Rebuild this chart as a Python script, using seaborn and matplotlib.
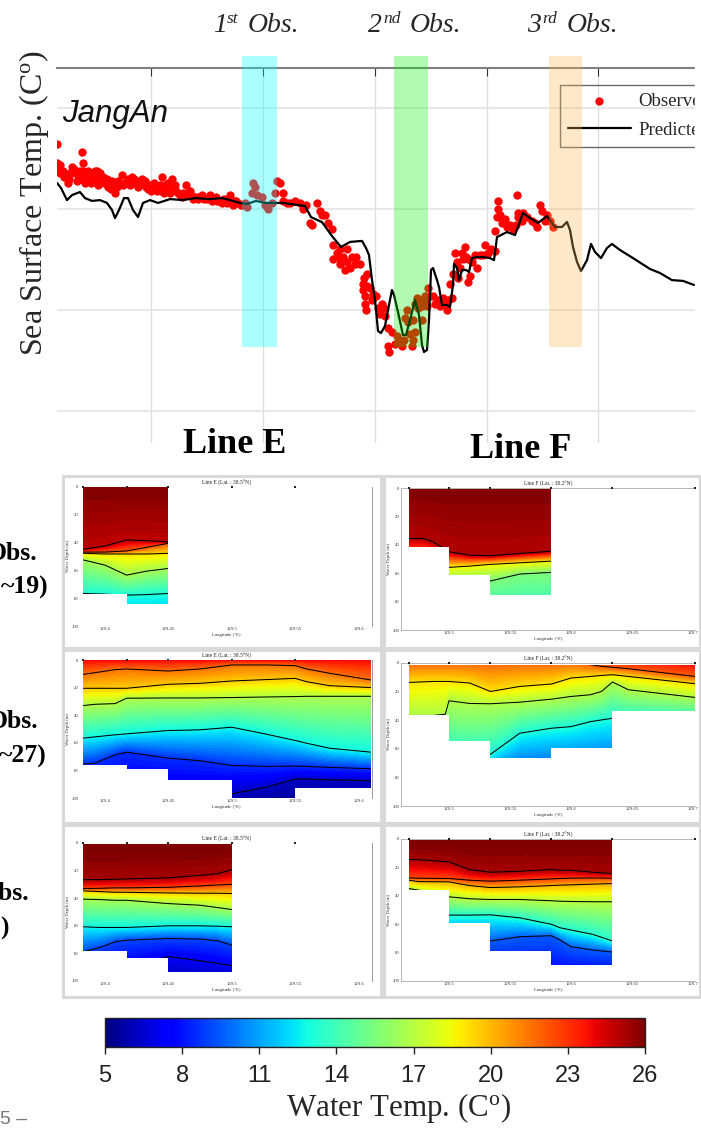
import matplotlib

matplotlib.use("Agg")
import matplotlib.pyplot as plt
import numpy as np
import seaborn as sns
from matplotlib.cm import ScalarMappable
from matplotlib.colors import Normalize
from matplotlib.patches import Polygon, Rectangle

W, H = 701, 1128

# top panel: sea surface temperature at JangAn
pred_day = [0, 4, 10, 15, 23, 28, 35, 43, 50, 55, 58, 62, 67, 71, 76, 81, 86, 93, 101, 113, 126, 138,
            153, 165, 173, 183, 190, 199, 208, 216, 226, 240, 248, 254, 265, 275, 284, 293, 305, 309,
            312, 315, 318, 321, 324, 328, 333, 335, 337, 341, 346, 349, 353, 358, 362, 365, 367, 370,
            372, 374, 376, 380, 382, 385, 390, 393, 396, 397, 400, 402, 405, 409, 412, 415, 419, 426,
            433, 437, 440, 450, 458, 461, 466, 473, 481, 490, 498, 505, 510, 513, 516, 520, 524, 530,
            534, 538, 544, 550, 555, 563, 576, 593, 603, 615, 626, 637]
pred_temp = [21.29, 21.04, 20.44, 20.69, 20.84, 20.54, 20.40, 20.44, 20.30, 19.95, 19.55, 19.95, 20.54,
             20.54, 19.95, 19.60, 20.30, 20.44, 20.30, 20.49, 20.44, 20.54, 20.49, 20.54, 20.44, 20.30,
             20.25, 20.40, 20.30, 20.30, 20.30, 20.20, 20.15, 19.60, 19.35, 18.66, 18.12, 18.37, 18.42,
             18.07, 17.72, 16.48, 15.50, 13.96, 13.86, 14.21, 15.50, 15.99, 15.74, 14.90, 13.76, 13.76,
             14.50, 15.50, 14.75, 13.27, 12.92, 13.02, 14.50, 16.98, 17.08, 16.48, 16.14, 15.25, 15.25,
             15.15, 16.24, 17.28, 17.08, 16.48, 16.98, 16.98, 16.88, 17.57, 17.62, 17.62, 17.57, 17.47,
             18.61, 18.86, 18.71, 19.11, 19.80, 19.55, 19.31, 19.65, 19.11, 19.11, 19.36, 18.96, 18.12,
             17.38, 16.93, 17.47, 18.27, 17.87, 17.57, 18.07, 18.27, 17.97, 17.57, 17.03, 16.83, 16.48,
             16.44, 16.24]

obs_day = [0, 0, 0, 3, 6, 9, 11, 13, 15, 18, 21, 23, 25, 26, 26, 29, 32, 35, 38, 41, 41, 43, 46, 50, 53,
           55, 58, 58, 61, 65, 68, 71, 75, 78, 80, 83, 86, 89, 93, 95, 98, 100, 103, 105, 108, 111, 115,
           116, 119, 123, 126, 129, 131, 134, 138, 141, 143, 147, 153, 157, 160, 165, 170, 173, 177, 181,
           186, 190, 196, 198, 195, 200, 205, 208, 211, 215, 218, 220, 223, 226, 226, 230, 233, 238, 243,
           246, 249, 255, 253, 260, 263, 265, 268, 271, 275, 276, 276, 280, 281, 283, 288, 290, 290, 295,
           298, 303, 310, 306, 310, 306, 308, 308, 309, 313, 316, 325, 321, 323, 328, 331, 335, 331, 332,
           340, 343, 345, 341, 350, 348, 355, 356, 358, 356, 360, 363, 368, 365, 365, 358, 361, 370, 371,
           376, 378, 381, 386, 390, 391, 393, 395, 396, 398, 401, 405, 406, 408, 411, 413, 411, 418, 420,
           428, 426, 431, 438, 438, 441, 441, 440, 445, 450, 456, 460, 461, 461, 466, 470, 475, 480, 483,
           485, 490, 493, 496,
           3, 7, 12, 17, 20, 24, 28, 31, 34, 37, 40, 44, 47, 51, 54, 56, 60, 63, 66, 70, 73, 77, 81, 85, 88,
           91, 94, 97, 101, 104, 107, 110, 113, 118, 121, 125, 128, 133, 136, 141, 145, 150, 155, 159, 163,
           167, 172, 176, 179, 184, 188,
           283, 286, 293, 299, 307, 315, 319, 327, 338, 347, 353, 351, 368, 373, 383, 388, 400, 403, 409,
           415, 423, 434, 443, 448, 453, 459, 465, 478, 488]
obs_temp = [23.2, 22.3, 21.9, 21.8, 21.9, 21.7, 21.3, 21.8, 22.1, 21.8, 21.7, 21.9, 22.8, 22.3, 21.9,
            21.6, 21.6, 21.7, 21.9, 21.2, 21.6, 21.8, 21.6, 21.5, 21.3, 21.4, 20.8, 21.1, 21.4, 21.7, 21.3,
            21.5, 21.6, 21.3, 21.4, 21.3, 21.3, 21.1, 21.2, 21.2, 21.0, 20.9, 21.2, 21.6, 21.2, 21.3, 21.5,
            21.1, 20.9, 20.7, 20.8, 21.2, 20.8, 20.7, 20.6, 20.6, 20.6, 20.5, 20.7, 20.5, 20.4, 20.3, 20.3,
            20.7, 20.4, 20.3, 20.2, 20.1, 21.3, 21.1, 20.8, 20.7, 20.6, 20.2, 20.0, 20.3, 20.8, 21.4, 21.3,
            20.8, 20.4, 20.3, 20.3, 20.4, 20.3, 20.0, 20.2, 19.2, 19.3, 20.3, 19.9, 19.7, 19.7, 19.3, 19.0,
            18.2, 17.5, 17.8, 17.6, 17.3, 17.0, 18.0, 17.4, 17.6, 17.3, 17.3, 16.8, 16.3, 16.2, 16.0, 15.7,
            15.3, 15.0, 16.1, 15.8, 15.3, 15.1, 14.8, 14.7, 14.1, 13.9, 13.2, 12.9, 13.7, 13.5, 13.2, 13.4,
            15.0, 14.6, 13.2, 13.5, 13.9, 14.5, 15.6, 15.5, 15.4, 15.2, 14.5, 15.3, 15.1, 15.2, 16.1, 15.7,
            15.3, 15.5, 15.6, 15.0, 15.5, 16.3, 15.6, 16.8, 17.8, 16.6, 17.8, 17.5, 18.1, 17.5, 16.7, 16.4,
            17.7, 17.1, 18.2, 17.7, 17.8, 17.9, 18.9, 20.4, 20.0, 19.6, 19.3, 19.1, 19.0, 20.7, 19.8, 19.6,
            19.8, 19.6, 19.4, 19.1, 20.2, 19.9, 19.7, 19.4, 19.1,
            22.2, 21.6, 21.5, 22.0, 21.4, 21.5, 21.3, 21.9, 21.3, 21.4, 21.9, 21.4, 21.3, 21.1, 21.0, 21.2,
            21.1, 21.3, 21.2, 21.3, 21.2, 21.5, 21.1, 21.5, 21.4, 21.0, 20.9, 21.3, 21.1, 20.9, 20.8, 20.9,
            20.8, 21.2, 20.8, 20.6, 20.7, 20.9, 20.5, 20.5, 20.7, 20.5, 20.4, 20.6, 20.4, 20.5, 20.4, 20.2,
            20.4, 20.2, 20.3,
            18.0, 17.6, 17.1, 17.6, 16.6, 15.5, 15.7, 15.1, 13.3, 13.5, 13.8, 14.4, 15.7, 15.7, 15.2, 15.3,
            17.4, 17.1, 17.6, 17.4, 17.7, 18.0, 19.7, 19.5, 19.2, 19.2, 19.4, 19.3, 19.4]

obs_spans = [(185, 220), (337, 371), (492, 525)]
span_colors = ["#00ffff", "#00f000", "#fab34d"]
span_alpha = [0.33, 0.3, 0.3]
# x of the numeral, its superscript and the word, per heading
span_numbers = [("1", "st", 213, 227, 248), ("2", "nd", 368, 383, 410), ("3", "rd", 527, 542, 567)]
day_ticks = [94, 206, 318, 430, 541]
temp_ticks = [10, 15, 20, 25]

# section panels: each row of depths follows one isotherm across the listed longitudes
e1_lons = [129.383, 129.40, 129.417, 129.433, 129.45]
e1_temps = [26, 24.8, 22, 19, 16.5, 13, 11]
e1_depths = [[0, 0, 0, 0, 0],
             [44.8, 42.4, 38.1, 38.6, 39.5],
             [46.8, 46.8, 46.0, 43.4, 40.5],
             [47.7, 48.2, 48.2, 48.2, 47.7],
             [52.5, 56.2, 63.4, 60.5, 58.6],
             [76.6, 77.1, 77.8, 77.4, 76.6],
             [100, 100, 100, 100, 100]]
e1_edges = [129.383, 129.417, 129.45]
e1_bottom = [77.1, 83.9]

e2_lons = [129.383, 129.392, 129.408, 129.417, 129.45, 129.475, 129.5, 129.527, 129.55, 129.559, 129.577, 129.61]
e2_temps = [23.8, 21.5, 19.5, 16.8, 12.7, 8.5, 6.3, 5]
e2_depths = [[0] * 12,
             [10.4, 9.2, 7.0, 6.5, 8.0, 6.5, 3.6, 3.6, 4.1, 6.5, 9.6, 14.5],
             [20.5, 20.5, 20.5, 20.5, 17.6, 16.9, 15.2, 14.2, 13.3, 15.7, 18.6, 20.0],
             [33.0, 32.1, 31.6, 27.7, 27.5, 27.5, 27.2, 26.8, 26.5, 26.3, 26.3, 26.3],
             [56.6, 55.7, 54.2, 53.5, 51.1, 50.6, 48.7, 53.7, 58.3, 60.3, 63.9, 66.8],
             [75.4, 74.7, 68.7, 66.8, 71.1, 73.0, 76.4, 77.1, 76.9, 77.1, 77.8, 78.8],
             [102.4, 102.4, 102.4, 102.4, 102.4, 102.4, 96.9, 92.3, 86.3, 86.3, 86.8, 87.5],
             [110] * 12]
e2_edges = [129.383, 129.417, 129.45, 129.5, 129.55, 129.61]
e2_bottom = [75.9, 79.1, 86.8, 100, 92.8]

e3_lons = [129.383, 129.396, 129.408, 129.417, 129.45, 129.475, 129.489, 129.5]
e3_temps = [26.3, 25.2, 22.5, 19.5, 16.5, 12.7, 9, 7.2, 6]
e3_depths = [[0] * 8,
             [26.5, 26.5, 26.3, 26.0, 25.3, 23.4, 22.2, 19.3],
             [33.0, 32.8, 32.5, 32.5, 32.1, 31.1, 30.4, 29.9],
             [34.7, 35.2, 35.7, 35.7, 36.2, 36.4, 36.4, 36.6],
             [40.7, 41.0, 41.5, 41.5, 43.9, 45.1, 46.8, 48.2],
             [60.7, 61.2, 61.2, 61.2, 60.0, 60.0, 60.3, 60.7],
             [78.8, 75.7, 71.6, 70.4, 69.2, 69.6, 70.9, 74.0],
             [89.7, 89.7, 89.7, 89.7, 82.4, 85.3, 87.2, 88.9],
             [100] * 8]
e3_edges = [129.383, 129.417, 129.45, 129.5]
e3_bottom = [78.3, 83.1, 93.5]

f1_lons = [129.467, 129.479, 129.487, 129.5, 129.517, 129.534, 129.558, 129.584]
f1_temps = [26, 25, 18.5, 15.5, 12.5]
f1_depths = [[0] * 8,
             [35.6, 35.6, 37.9, 44.9, 47.3, 47.7, 46.1, 44.5],
             [55.5, 55.5, 55.5, 55.9, 55.0, 53.8, 52.7, 51.5],
             [67.2, 67.2, 67.2, 67.2, 66.0, 65.5, 60.6, 59.4],
             [100] * 8]
f1_edges = [129.467, 129.5, 129.534, 129.584]
f1_bottom = [41.9, 61.3, 75.6]

f2_lons = [129.467, 129.487, 129.497, 129.5, 129.517, 129.534, 129.558, 129.584, 129.6, 129.616, 129.625,
           129.634, 129.647, 129.702]
f2_temps = [25.8, 22, 19, 16.8, 13, 8.5]
f2_depths = [[-10] * 14,
             [-1.2, -1.2, -1.2, -1.2, -1.2, -1.2, -1.2, -1.2, -1.2, 1.2, 2.3, 3.0, 4.0, 9.4],
             [13.6, 12.9, 12.9, 12.9, 14.0, 19.9, 16.4, 14.7, 10.5, 9.4, 8.7, 8.2, 9.4, 14.5],
             [36.7, 36.7, 35.8, 26.4, 28.3, 28.5, 27.4, 25.3, 23.4, 22.2, 19.9, 13.3, 18.7, 24.1],
             [65.5, 65.5, 65.5, 65.5, 65.5, 63.9, 49.1, 45.6, 44.5, 41.0, 39.8, 38.6, 39.1, 39.8],
             [80.7] * 14]
f2_edges = [129.467, 129.5, 129.534, 129.584, 129.634, 129.702]
f2_bottom = [36.7, 54.5, 66.7, 59.2, 33.9]

f3_lons = [129.467, 129.475, 129.5, 129.517, 129.534, 129.558, 129.584, 129.591, 129.6, 129.618, 129.634]
f3_temps = [26.3, 25.2, 22.5, 20, 17, 13.2, 9.5, 7.5]
f3_depths = [[0] * 11,
             [14.5, 14.5, 16.1, 21.5, 23.4, 22.7, 21.5, 22.0, 22.0, 23.4, 24.3],
             [27.4, 27.6, 27.8, 29.0, 29.7, 29.0, 28.1, 27.8, 27.6, 27.4, 27.6],
             [29.0, 30.0, 30.2, 32.8, 34.2, 33.7, 32.8, 32.5, 32.3, 31.8, 31.4],
             [34.9, 36.0, 40.7, 42.1, 42.6, 42.6, 43.5, 43.8, 44.0, 44.2, 44.2],
             [53.6, 53.6, 53.6, 53.6, 53.4, 55.5, 60.1, 62.5, 64.1, 67.2, 71.8],
             [71.8, 71.8, 71.8, 71.8, 71.8, 68.8, 68.1, 71.1, 75.8, 78.2, 79.6],
             [94] * 11]
f3_edges = [129.467, 129.5, 129.534, 129.584, 129.634]
f3_bottom = [36.0, 59.4, 78.9, 88.7]

e_stations = [129.383, 129.417, 129.45, 129.5, 129.55]
f_stations = [129.467, 129.5, 129.534, 129.584, 129.634, 129.702]
e_ticks = [129.4, 129.45, 129.5, 129.55, 129.6]
f_ticks = [129.5, 129.55, 129.6, 129.65, 129.7]
depth_ticks = [0, 20, 40, 60, 80, 100]
cbar_ticks = [5, 8, 11, 14, 17, 20, 23, 26]

sns.set_theme(style="white")
plt.rcParams["font.family"] = ["Liberation Serif", "DejaVu Serif"]
plt.rcParams["mathtext.fontset"] = "custom"
plt.rcParams["mathtext.rm"] = "Liberation Serif"
plt.rcParams["mathtext.it"] = "Liberation Serif:italic"
plt.rcParams["mathtext.bf"] = "Liberation Serif:bold"

fig = plt.figure(figsize=(W / 100, H / 100), dpi=100)


def px_axes(x0, y0, x1, y1):
    return fig.add_axes([x0 / W, 1 - y1 / H, (x1 - x0) / W, (y1 - y0) / H])


def px_text(x, y, s, **kw):
    kw.setdefault("va", "center")
    return fig.text(x / W, 1 - y / H, s, **kw)


# %% top panel
ax = px_axes(57, 68, 695, 443)
sns.scatterplot(x=obs_day, y=obs_temp, color="#ff0000", s=36, linewidth=0, ax=ax, label="Observed", zorder=3)
sns.lineplot(x=pred_day, y=pred_temp, color="black", lw=1.6, estimator=None, sort=False, ax=ax,
             label="Predicted", zorder=4)
ax.set_xlim(0, 638)
ax.set_ylim(8.416, 26.98)
ax.set_xticks(day_ticks)
ax.set_yticks(temp_ticks)
ax.set_xticklabels([])
ax.set_yticklabels([])
ax.xaxis.tick_top()
ax.tick_params(axis="x", direction="in", length=5.5, width=0.8, color="#333333", top=True)
ax.tick_params(axis="y", length=0)
ax.grid(True, axis="y", color="#e2e2e2", lw=1.1)
ax.grid(True, axis="x", color="#dddddd", lw=0.9)
ax.set_axisbelow(True)
for side in ["left", "right", "bottom"]:
    ax.spines[side].set_visible(False)
ax.spines["top"].set_color("#808080")
ax.spines["top"].set_linewidth(1.5)
for (x0, x1), col, alpha in zip(obs_spans, span_colors, span_alpha):
    ax.axvspan(x0, x1, ymin=0.256, ymax=1.032, color=col, alpha=alpha, lw=0, zorder=6, clip_on=False)
leg = ax.legend(loc="upper left", bbox_to_anchor=(560 / W, 1 - 85 / H), bbox_transform=fig.transFigure,
                fontsize=13.5, frameon=True, fancybox=False, borderaxespad=0, borderpad=0.42,
                handlelength=3.35, handletextpad=0.4, labelspacing=0.62)
leg.get_frame().set_facecolor("none")
leg.get_frame().set_edgecolor("#444444")
leg.get_frame().set_linewidth(1)
fig.add_artist(Rectangle((695 / W, 1 - 150 / H), 6 / W, 90 / H, transform=fig.transFigure, color="white",
                         zorder=20))

for num, sup, x_num, x_sup, x_word in span_numbers:
    px_text(x_num, 25, num, style="italic", fontsize=20)
    px_text(x_sup, 19, sup, style="italic", fontsize=12.5)
    px_text(x_word, 25, "Obs.", style="italic", fontsize=20)
px_text(34, 203, "Sea Surface Temp. (C$^{\\mathrm{o}}$)", rotation=90, ha="center", fontsize=23)
px_text(62, 114, "JangAn", family="Liberation Sans", style="italic", fontsize=22.5, color="#111111")
px_text(235, 445, "Line E", ha="center", fontsize=26, fontweight="bold", color="black")
px_text(521, 449, "Line F", ha="center", fontsize=26, fontweight="bold", color="black")

# %% section panels
norm = Normalize(5, 26)
level_steps = np.arange(5, 26.01, 0.25)


def section(frame, axbox, lons, temps, depths, edges, bottom, stations, ticks, xlim, title, top=0.0):
    fig.add_artist(Rectangle((frame[0] / W, 1 - frame[3] / H), (frame[2] - frame[0]) / W,
                             (frame[3] - frame[1]) / H, transform=fig.transFigure, facecolor="white",
                             edgecolor="#d9d9d9", lw=2.2, zorder=0))
    sec = px_axes(*axbox)
    sec.patch.set_alpha(0)
    sec.set_zorder(2)
    xx = np.tile(lons, (len(temps), 1))
    zz = np.array(depths)
    tt = np.tile(np.array(temps)[:, None], (1, len(lons)))
    verts = [(edges[0], top), (edges[-1], top)]
    for i in range(len(bottom) - 1, -1, -1):
        verts += [(edges[i + 1], bottom[i]), (edges[i], bottom[i])]
    clip = Polygon(verts, closed=True, transform=sec.transData)
    filled = sec.contourf(xx, zz, tt, levels=level_steps, cmap="jet", norm=norm, extend="both")
    filled.set_clip_path(clip)
    for row in depths[1:-1]:
        sns.lineplot(x=lons, y=row, color="black", lw=0.75, estimator=None, sort=False, ax=sec, legend=False)
        sec.lines[-1].set_clip_path(clip)
    sec.plot(stations, [0] * len(stations), "s", color="#222222", ms=1.8, mew=0, clip_on=False, zorder=5)
    sec.set_xlim(*xlim)
    sec.set_ylim(100, 0)
    sec.set_xticks(ticks)
    sec.set_xticklabels([str(t) for t in ticks])
    sec.set_yticks(depth_ticks)
    sec.tick_params(axis="both", labelsize=3.4, length=1.5, width=0.3, pad=1, colors="#333333", direction="in")
    sec.set_xlabel("Longitude (°E)", fontsize=3.4, labelpad=1, color="#333333")
    sec.set_ylabel("Water Depth (m)", fontsize=3.4, labelpad=1, color="#333333")
    sec.set_title(title, fontsize=4, pad=1.5, color="#222222")
    return sec


e_xlim = (129.3803, 129.6106)
f_xlim = (129.4607, 129.7016)
e_title = "Line E (Lat. : 38.5°N)"
f_title = "Line F (Lat. : 38.2°N)"
left_frames = [(63, 476, 381, 648), (63, 650, 381, 823), (63, 825, 381, 997)]
right_frames = [(384, 476, 700, 648), (384, 650, 700, 823), (384, 825, 700, 997)]
left_axes = [(80, 487, 372, 626), (80, 660, 372, 798), (80, 843, 372, 981)]
right_axes = [(401, 488, 695, 630), (401, 663, 695, 806), (401, 839, 695, 981)]

left_data = [(e1_lons, e1_temps, e1_depths, e1_edges, e1_bottom, 0.0),
             (e2_lons, e2_temps, e2_depths, e2_edges, e2_bottom, 0.0),
             (e3_lons, e3_temps, e3_depths, e3_edges, e3_bottom, 0.5)]
right_data = [(f1_lons, f1_temps, f1_depths, f1_edges, f1_bottom, 0.5),
              (f2_lons, f2_temps, f2_depths, f2_edges, f2_bottom, 1.6),
              (f3_lons, f3_temps, f3_depths, f3_edges, f3_bottom, 1.0)]

for frame, box, d in zip(left_frames, left_axes, left_data):
    sec = section(frame, box, d[0], d[1], d[2], d[3], d[4], e_stations, e_ticks, e_xlim, e_title, top=d[5])
    for side in ["left", "top", "bottom"]:
        sec.spines[side].set_visible(False)
    sec.spines["right"].set_color("#888888")
    sec.spines["right"].set_linewidth(0.6)

for frame, box, d in zip(right_frames, right_axes, right_data):
    sec = section(frame, box, d[0], d[1], d[2], d[3], d[4], f_stations, f_ticks, f_xlim, f_title, top=d[5])
    sec.spines["right"].set_visible(False)
    for side in ["left", "top", "bottom"]:
        sec.spines[side].set_color("#999999")
        sec.spines[side].set_linewidth(0.5)

# row labels are cut by the page edge in the source
bold = dict(ha="right", fontsize=18.5, fontweight="bold", color="black")
px_text(37, 553, "Obs.", **bold)
px_text(48, 587, "~19)", **bold)
px_text(38, 722, "Obs.", **bold)
px_text(47, 756, "~27)", **bold)
px_text(29, 894, "Obs.", **bold)
px_text(9, 928, ")", **bold)

# %% colour bar
cax = px_axes(105, 1018, 645, 1047)
cbar = fig.colorbar(ScalarMappable(norm=norm, cmap="jet"), cax=cax, orientation="horizontal", ticks=cbar_ticks)
cbar.outline.set_edgecolor("#222222")
cbar.outline.set_linewidth(1)
cax.tick_params(axis="x", length=5, width=1, color="#222222", pad=8, labelsize=17, labelcolor="#222222")
for lab in cax.get_xticklabels():
    lab.set_family("Liberation Sans")
px_text(399, 1108, "Water Temp. (C$^{\\mathrm{o}}$)", ha="center", fontsize=22.3)
px_text(0, 1119, "5 –", family="Liberation Sans", fontsize=14, color="#777777")

fig.savefig("out.png", dpi=100)
